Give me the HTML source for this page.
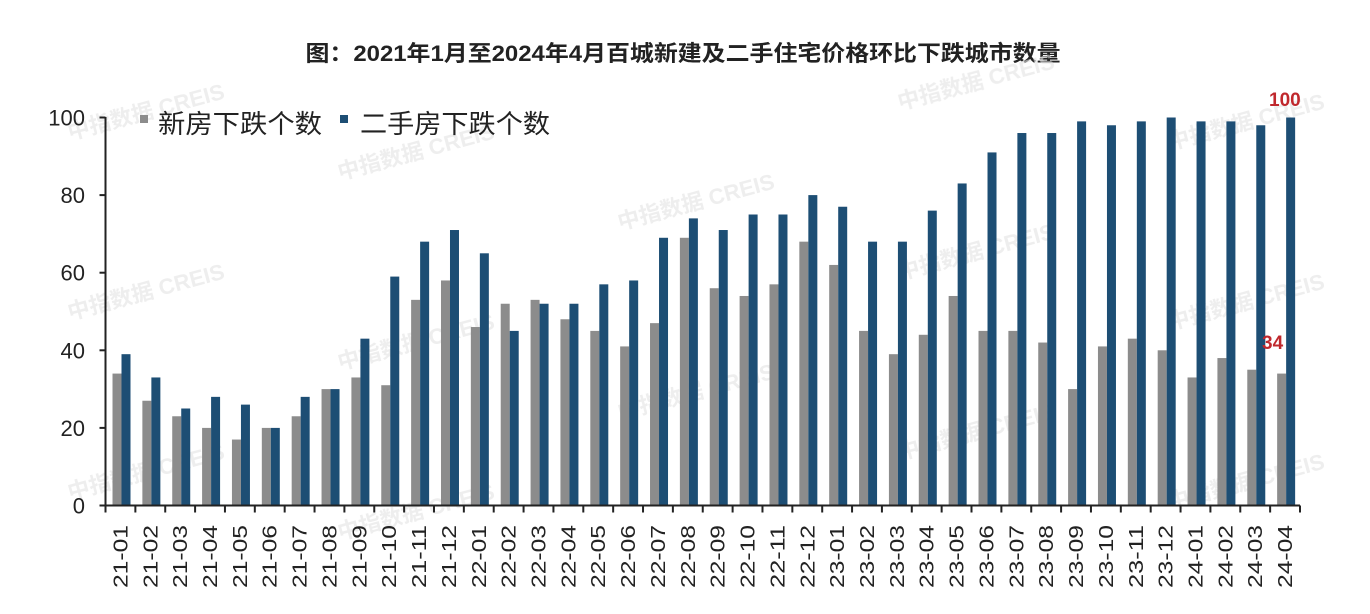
<!DOCTYPE html>
<html><head><meta charset="utf-8"><style>
html,body{margin:0;padding:0;background:#fff;}
svg{display:block;font-family:"Liberation Sans","Noto Sans CJK SC",sans-serif;}
</style></head><body>
<svg id="c" width="1370" height="614" viewBox="0 0 1370 614" xmlns="http://www.w3.org/2000/svg">
<rect width="1370" height="614" fill="#fff"/>
<text x="683" y="61" text-anchor="middle" font-size="22" font-weight="bold" fill="#222" textLength="755" lengthAdjust="spacingAndGlyphs">图：2021年1月至2024年4月百城新建及二手住宅价格环比下跌城市数量</text>
<g id="wm" fill="#e3e3e3" font-size="22" font-weight="bold" opacity="0.6"></g>
<g id="bars"></g>
<g id="axes" stroke="#222" stroke-width="2" fill="none"></g>
<g id="lbl" fill="#222"></g>
<rect x="140" y="115" width="8" height="8" fill="#8c8c8c"/>
<text x="158" y="133" font-size="26" fill="#222" textLength="164" lengthAdjust="spacingAndGlyphs">新房下跌个数</text>
<rect x="340" y="115" width="8" height="8" fill="#1d4e74"/>
<text x="360" y="133" font-size="26" fill="#222" textLength="190" lengthAdjust="spacingAndGlyphs">二手房下跌个数</text>
<text x="1269" y="106" font-size="19" font-weight="bold" fill="#c0282d">100</text>
<text x="1262" y="349" font-size="19" font-weight="bold" fill="#c0282d">34</text>
</svg>
<script>
const n=[34,27,23,20,17,20,23,30,33,31,53,58,46,52,53,48,45,41,47,69,56,54,57,68,62,45,39,44,54,45,45,42,30,41,43,40,33,38,35,34];
const s=[39,33,25,28,26,20,28,30,43,59,68,71,65,45,52,52,57,58,69,74,71,75,75,80,77,68,68,76,83,91,96,96,99,98,99,100,99,99,98,100];
const L=['21-01','21-02','21-03','21-04','21-05','21-06','21-07','21-08','21-09','21-10','21-11','21-12','22-01','22-02','22-03','22-04','22-05','22-06','22-07','22-08','22-09','22-10','22-11','22-12','23-01','23-02','23-03','23-04','23-05','23-06','23-07','23-08','23-09','23-10','23-11','23-12','24-01','24-02','24-03','24-04'];
const NS="http://www.w3.org/2000/svg";
const x0=105.5,x1=1300,cw=(x1-x0)/40,base=505.5,k=3.88;
function el(p,t,a,txt){const e=document.createElementNS(NS,t);for(const q in a)e.setAttribute(q,a[q]);if(txt!==undefined)e.textContent=txt;document.getElementById(p).appendChild(e);return e;}
const wms=[[70,140],[340,180],[620,230],[900,280],[1170,150],[70,320],[340,370],[620,420],[900,460],[1170,330],[70,500],[340,540],[1170,510],[900,110]];
wms.forEach(([x,y])=>el('wm','text',{x:x,y:y,transform:`rotate(-15 ${x} ${y})`},'中指数据  CREIS'));
for(let i=0;i<40;i++){
 const cx=x0+i*cw;
 el('bars','rect',{x:cx+7,y:base-n[i]*k,width:9,height:n[i]*k,fill:'#8c8c8c'});
 el('bars','rect',{x:cx+16,y:base-s[i]*k,width:9,height:s[i]*k,fill:'#1d4e74'});
 el('axes','line',{x1:cx,y1:base,x2:cx,y2:base+7});
 const lx=cx+cw/2+7;
 el('lbl','text',{x:lx,y:525,transform:`rotate(-90 ${lx} 525)`,'text-anchor':'end','font-size':20,textLength:63,lengthAdjust:'spacingAndGlyphs'},L[i]);
}
el('axes','line',{x1:x1,y1:base,x2:x1,y2:base+7});
el('axes','line',{x1:x0,y1:base,x2:x1,y2:base});
el('axes','line',{x1:x0,y1:117,x2:x0,y2:base});
for(let v=0;v<=100;v+=20){const y=base-v*k;el('axes','line',{x1:x0-6,y1:y,x2:x0,y2:y});
 el('lbl','text',{x:85,y:y+8,'text-anchor':'end','font-size':22},v);}
</script>
</body></html>
